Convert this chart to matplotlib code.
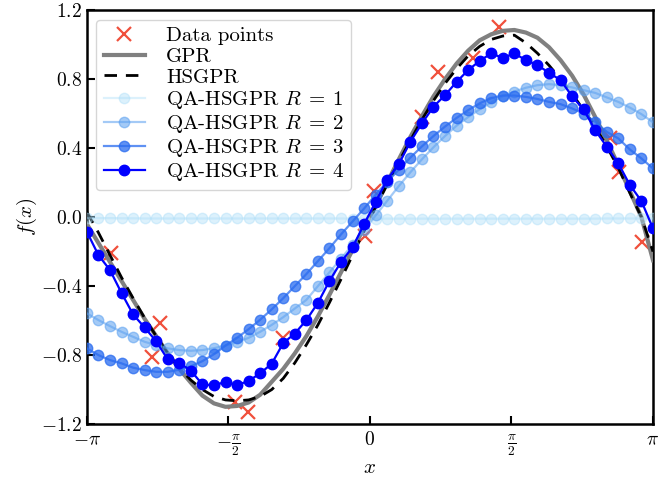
import numpy as np
from matplotlib import pyplot as plt

plt.rcParams['font.family'] = 'serif'
plt.rcParams['font.serif'] = ['cmr10']
plt.rcParams['mathtext.fontset'] = 'cm'
plt.rcParams['axes.formatter.use_mathtext'] = True

# observations
x_data = [-2.87, -2.33, -2.42, -1.50, -1.35, -0.97, -0.05, 0.05,
          0.58, 0.76, 1.14, 1.43, 2.66, 2.76, 3.02]
y_data = [-0.21, -0.615, -0.81, -1.07, -1.13, -0.70, -0.11, 0.15,
          0.58, 0.84, 0.92, 1.10, 0.46, 0.26, -0.145]

# 50 test inputs on [-pi, pi]
x_test = np.linspace(-np.pi, np.pi, 50)

gpr = [-0.04, -0.15, -0.26, -0.37, -0.48, -0.59, -0.69, -0.79, -0.88, -0.96,
       -1.035, -1.08, -1.10, -1.095, -1.075, -1.03, -0.955, -0.88, -0.79, -0.69,
       -0.575, -0.45, -0.32, -0.19, -0.06, 0.065, 0.20, 0.335, 0.465, 0.585,
       0.70, 0.80, 0.89, 0.965, 1.025, 1.06, 1.08, 1.085, 1.07, 1.04,
       0.985, 0.91, 0.82, 0.71, 0.58, 0.445, 0.30, 0.15, 0.0, -0.25]

hsgpr = [0.03, -0.09, -0.22, -0.35, -0.47, -0.585, -0.69, -0.79, -0.875, -0.945,
         -1.0, -1.04, -1.06, -1.065, -1.06, -1.04, -1.0, -0.935, -0.845, -0.74,
         -0.625, -0.495, -0.36, -0.22, -0.08, 0.06, 0.19, 0.32, 0.445, 0.565,
         0.675, 0.775, 0.86, 0.935, 0.99, 1.03, 1.05, 1.055, 1.01, 0.95,
         0.88, 0.80, 0.715, 0.62, 0.525, 0.41, 0.285, 0.14, 0.0, -0.20]

qa_r1 = [-0.005, -0.006, -0.006, -0.007, -0.007, -0.008, -0.008, -0.008, -0.008, -0.008,
         -0.008, -0.008, -0.008, -0.008, -0.008, -0.008, -0.008, -0.008, -0.008, -0.008,
         -0.008, -0.008, -0.008, -0.009, -0.009, -0.009, -0.009, -0.009, -0.009, -0.009,
         -0.009, -0.009, -0.009, -0.009, -0.009, -0.009, -0.009, -0.009, -0.009, -0.009,
         -0.009, -0.009, -0.009, -0.009, -0.009, -0.008, -0.008, -0.008, -0.008, -0.008]

qa_r2 = [-0.558, -0.597, -0.632, -0.665, -0.694, -0.723, -0.742, -0.761, -0.771, -0.775,
         -0.771, -0.76, -0.745, -0.725, -0.70, -0.665, -0.625, -0.58, -0.53, -0.48,
         -0.40, -0.32, -0.24, -0.16, -0.075, 0.01, 0.095, 0.18, 0.26, 0.335,
         0.405, 0.47, 0.53, 0.58, 0.625, 0.665, 0.70, 0.728, 0.75, 0.765,
         0.771, 0.765, 0.752, 0.736, 0.72, 0.694, 0.668, 0.635, 0.597, 0.55]

qa_r3 = [-0.761, -0.80, -0.829, -0.848, -0.873, -0.887, -0.897, -0.897, -0.885, -0.865,
         -0.835, -0.795, -0.745, -0.70, -0.65, -0.595, -0.535, -0.47, -0.40, -0.33,
         -0.255, -0.18, -0.10, -0.025, 0.05, 0.13, 0.205, 0.275, 0.345, 0.41,
         0.47, 0.525, 0.575, 0.62, 0.66, 0.69, 0.705, 0.705, 0.697, 0.685,
         0.668, 0.655, 0.63, 0.60, 0.552, 0.494, 0.456, 0.392, 0.34, 0.282]

qa_r4 = [-0.085, -0.22, -0.307, -0.44, -0.564, -0.64, -0.72, -0.825, -0.845, -0.89,
         -0.97, -0.976, -0.955, -0.974, -0.95, -0.906, -0.85, -0.73, -0.675, -0.597,
         -0.497, -0.37, -0.26, -0.175, -0.04, 0.089, 0.218, 0.307, 0.437, 0.543,
         0.64, 0.707, 0.784, 0.852, 0.906, 0.949, 0.923, 0.949, 0.91, 0.881,
         0.837, 0.794, 0.70, 0.624, 0.504, 0.408, 0.311, 0.186, 0.093, -0.066]

qa_series = [qa_r1, qa_r2, qa_r3, qa_r4]
qa_colors = ['#a8dcf8', '#5aa0f0', '#2a6cf0', '#0000ff']
qa_alpha = [0.4, 0.55, 0.75, 1.0]

fig = plt.figure(figsize=(6.58, 4.83), dpi=100)
ax = fig.add_axes([0.132, 0.122, 0.8604, 0.857])

ax.plot(x_data, y_data, 'x', color='#f0503c', markersize=10, mew=1.6,
        label='Data points', zorder=2)
ax.plot(x_test, gpr, '-', color='gray', lw=3, label='GPR', zorder=3)
ax.plot(x_test, hsgpr, '--', color='black', lw=2, dashes=(4.5, 3.2),
        label='HSGPR', zorder=4)
for k, (vals, col, a) in enumerate(zip(qa_series, qa_colors, qa_alpha)):
    ax.plot(x_test, vals, '-o', color=col, alpha=a, lw=1.6, markersize=7.5,
            label=rf'QA-HSGPR $R\:=\:{k + 1}$', zorder=5 + k)

ax.set_xlim(-np.pi, np.pi)
ax.set_ylim(-1.2, 1.2)
ax.set_xticks([-np.pi, -np.pi / 2, 0, np.pi / 2, np.pi])
ax.set_xticklabels([r'$-\pi$', r'$-\frac{\pi}{2}$', r'$0$', r'$\frac{\pi}{2}$', r'$\pi$'])
yt = [-1.2, -0.8, -0.4, 0.0, 0.4, 0.8, 1.2]
ax.set_yticks(yt)
ax.set_yticklabels([rf'${v:.1f}$' for v in yt])
ax.tick_params(direction='in', length=6, width=1.5, labelsize=14)
ax.tick_params(axis='x', pad=5)
for s in ax.spines.values():
    s.set_linewidth(1.8)
ax.set_xlabel(r'$x$', fontsize=15, labelpad=1)
ax.set_ylabel(r'$f(x)$', fontsize=15, labelpad=1)

ax.legend(loc='upper left', fontsize=15, labelspacing=0.1, handlelength=2.0,
          borderpad=0.35, handletextpad=1.0, borderaxespad=0.45)

fig.savefig('out.png', dpi=100)
